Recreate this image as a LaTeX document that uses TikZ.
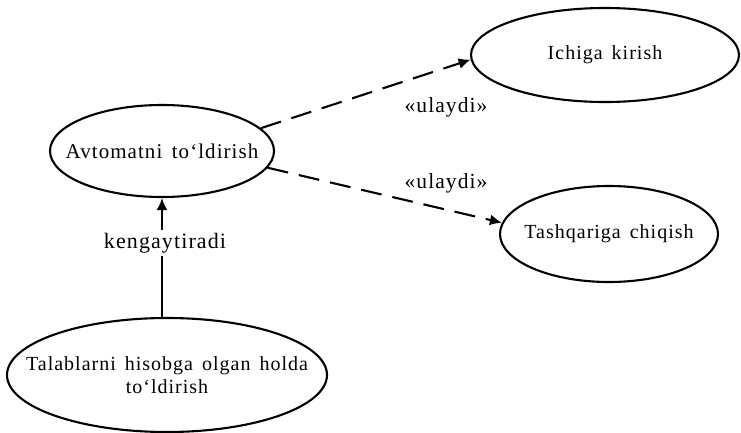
\documentclass[tikz,border=0pt]{standalone}
\usepackage{fontspec}
\setmainfont[LetterSpace=5,WordSpace=1.5]{Liberation Serif}
\usetikzlibrary{shapes.geometric,arrows.meta}
\begin{document}
\begin{tikzpicture}[x=1pt,y=-1pt,
  uc/.style={draw,ellipse,line width=2.1pt,inner sep=0pt},
  txt/.style={font=\fontsize{20}{23}\selectfont,align=center,inner sep=0pt},
  dep/.style={line width=2.1pt,dash pattern=on 21pt off 11pt,-{Latex[length=12pt,width=11pt]}},
  ext/.style={line width=2.1pt,-{Latex[length=12pt,width=11pt]}},
  lbl/.style={font=\fontsize{21.5}{24}\selectfont,inner sep=1pt}]
\useasboundingbox (0,0) rectangle (741,433);
\node[uc,minimum width=224pt,minimum height=92pt,
  label={[txt,font=\fontsize{21}{24}\selectfont]center:Avtomatni to‘ldirish}] (a) at (162,151) {};
\node[uc,minimum width=268pt,minimum height=94pt,
  label={[txt]center:Ichiga kirish}] (b) at (605,55) {};
\node[uc,minimum width=218pt,minimum height=96pt,
  label={[txt]center:Tashqariga chiqish}] (c) at (609,234) {};
\node[uc,minimum width=320pt,minimum height=114pt,
  label={[txt]center:Talablarni hisobga olgan holda\\to‘ldirish}] (d) at (167,375) {};
\draw[dep] (a.13) -- (b.182);
\draw[dep] (a.-9) -- (c.174);
\draw[ext] (d.north -| a.south) -- (a.south);
\node[lbl] (l1) at (446,107) {«ulaydi»};
\node[lbl] (l2) at (446,183) {«ulaydi»};
\node[lbl,font=\fontsize{22}{25}\selectfont,fill=white,inner sep=3pt] (l3) at (165,243) {kengaytiradi};
\end{tikzpicture}
\end{document}
